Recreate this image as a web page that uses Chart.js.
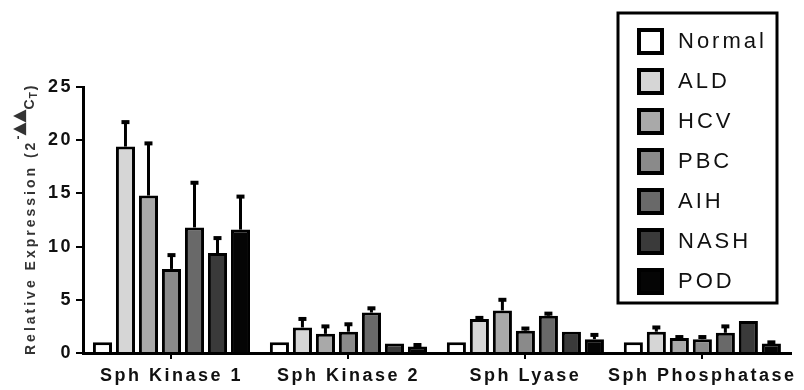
<!DOCTYPE html>
<html>
<head>
<meta charset="utf-8">
<script src="https://cdn.jsdelivr.net/npm/chart.js"></script>
<style>
  html, body { margin: 0; padding: 0; background: #fff; }
  canvas { display: block; }
</style>
</head>
<body>
<canvas id="chart" width="804" height="390"></canvas>
<script>
// categories on the x axis
const genes = ["Sph Kinase 1", "Sph Kinase 2", "Sph Lyase", "Sph Phosphatase"];
const yTicks = [0, 5, 10, 15, 20, 25];

// mean relative expression per disease group (one value per gene)
const normalVals = [1.0, 1.0, 1.0, 1.0];
const aldVals = [19.4, 2.4, 3.2, 2.0];
const hcvVals = [14.8, 1.8, 4.0, 1.4];
const pbcVals = [7.9, 2.0, 2.1, 1.3];
const aihVals = [11.8, 3.8, 3.5, 1.9];
const nashVals = [9.4, 0.9, 2.0, 3.0];
const podVals = [11.6, 0.6, 1.3, 0.9];

// SEM (upper error bar only)
const normalErr = [0, 0, 0, 0];
const aldErr = [2.3, 0.8, 0.1, 0.4];
const hcvErr = [4.9, 0.7, 1.0, 0.1];
const pbcErr = [1.3, 0.7, 0.2, 0.2];
const aihErr = [4.2, 0.4, 0.2, 0.6];
const nashErr = [1.4, 0, 0, 0];
const podErr = [3.1, 0.15, 0.4, 0.1];

const groupNames = ["Normal", "ALD", "HCV", "PBC", "AIH", "NASH", "POD"];
const groupColors = ["#ffffff", "#d6d6d6", "#a9a9a9", "#8a8a8a", "#696969", "#3a3a3a", "#050505"];
const groupVals = [normalVals, aldVals, hcvVals, pbcVals, aihVals, nashVals, podVals];
const groupErrs = [normalErr, aldErr, hcvErr, pbcErr, aihErr, nashErr, podErr];

const FONT = "'Liberation Sans', Arial, sans-serif";

const datasets = groupNames.map((name, i) => ({
  label: name,
  data: groupVals[i],
  err: groupErrs[i],
  backgroundColor: groupColors[i],
  borderColor: "#000",
  borderWidth: 3,
  borderSkipped: "bottom",
}));

// wide letter spacing for the axis tick labels (set before layout so widths include it)
const spacing = {
  id: "spacing",
  beforeLayout(chart) { chart.ctx.letterSpacing = "2.5px"; },
  beforeDraw(chart) { chart.ctx.letterSpacing = "2.5px"; },
};

// draws the upward error bars using the y scale
const errorBars = {
  id: "errorBars",
  afterDatasetsDraw(chart) {
    const ctx = chart.ctx;
    const y = chart.scales.y;
    ctx.save();
    ctx.strokeStyle = "#000";
    chart.data.datasets.forEach((ds, d) => {
      const meta = chart.getDatasetMeta(d);
      meta.data.forEach((bar, i) => {
        const e = ds.err[i];
        if (!e) return;
        const yTop = y.getPixelForValue(ds.data[i] + e);
        ctx.lineWidth = 3;
        ctx.beginPath();
        ctx.moveTo(bar.x, bar.y);
        ctx.lineTo(bar.x, yTop);
        ctx.stroke();
        ctx.lineWidth = 4;
        ctx.beginPath();
        ctx.moveTo(bar.x - 4, yTop);
        ctx.lineTo(bar.x + 4, yTop);
        ctx.stroke();
      });
    });
    ctx.restore();
  },
};

// boxed legend in the top right corner
const boxLegend = {
  id: "boxLegend",
  afterDraw(chart) {
    const ctx = chart.ctx;
    ctx.save();
    ctx.fillStyle = "#fff";
    ctx.fillRect(618, 13, 159, 290);
    ctx.strokeStyle = "#000";
    ctx.lineWidth = 3;
    ctx.strokeRect(618, 13, 159, 290);
    chart.data.datasets.forEach((ds, i) => {
      const top = 28 + i * 40;
      ctx.fillStyle = ds.backgroundColor;
      ctx.fillRect(637, top, 27, 27);
      ctx.lineWidth = 4;
      ctx.strokeRect(639, top + 2, 23, 23);
      ctx.fillStyle = "#111";
      ctx.font = "22px " + FONT;
      ctx.letterSpacing = "3px";
      ctx.textBaseline = "middle";
      ctx.textAlign = "left";
      ctx.fillText(ds.label, 678, top + 14);
    });
    ctx.restore();
  },
};

// rotated y axis title with the 2^-ddCT part
const yTitle = {
  id: "yTitle",
  afterDraw(chart) {
    const ctx = chart.ctx;
    ctx.save();
    ctx.translate(35, 355);
    ctx.rotate(-Math.PI / 2);
    ctx.fillStyle = "#333";
    ctx.textBaseline = "alphabetic";
    ctx.textAlign = "left";
    ctx.letterSpacing = "3px";
    ctx.font = "bold 14px " + FONT;
    let x = 0;
    const main = "Relative Expression (2";
    ctx.fillText(main, x, 0);
    x += ctx.measureText(main).width;
    ctx.letterSpacing = "0px";
    ctx.font = "bold 12px " + FONT;
    ctx.fillText("-", x, -13);
    x += ctx.measureText("-").width;
    ctx.font = "17px 'DejaVu Sans', sans-serif";
    const tri = "\u25B2\u25B2";
    ctx.fillText(tri, x, -11);
    x += ctx.measureText(tri).width;
    ctx.font = "bold 14px " + FONT;
    ctx.fillText("C", x, -1);
    x += ctx.measureText("C").width + 1;
    ctx.font = "bold 10px " + FONT;
    ctx.fillText("T", x, 2);
    x += ctx.measureText("T").width + 2;
    ctx.font = "bold 14px " + FONT;
    ctx.fillText(")", x, 0);
    ctx.restore();
  },
};

new Chart(document.getElementById("chart"), {
  type: "bar",
  data: { labels: genes, datasets },
  options: {
    responsive: false,
    animation: false,
    layout: { padding: { top: 87, right: 11, bottom: 0, left: 0 } },
    datasets: { bar: { categoryPercentage: 0.91, barPercentage: 0.83 } },
    plugins: { legend: { display: false }, tooltip: { enabled: false } },
    scales: {
      x: {
        afterFit(scale) { scale.height = 37; },
        grid: { drawOnChartArea: false, offset: false, tickLength: 6, color: "#000", lineWidth: 2 },
        border: { color: "#000", width: 3 },
        ticks: {
          color: "#111", padding: 6, autoSkip: false, maxRotation: 0, minRotation: 0,
          font: { family: FONT, size: 18, weight: "bold" },
        },
      },
      y: {
        min: 0,
        max: 25,
        afterFit(scale) { scale.width = 83; },
        afterBuildTicks(scale) { scale.ticks = yTicks.map(v => ({ value: v })); },
        grid: { drawOnChartArea: false, tickLength: 7, color: "#000", lineWidth: 2 },
        border: { color: "#000", width: 3 },
        ticks: { color: "#111", padding: 3, font: { family: FONT, size: 18, weight: "bold" } },
      },
    },
  },
  plugins: [spacing, errorBars, yTitle, boxLegend],
});
</script>
</body>
</html>
